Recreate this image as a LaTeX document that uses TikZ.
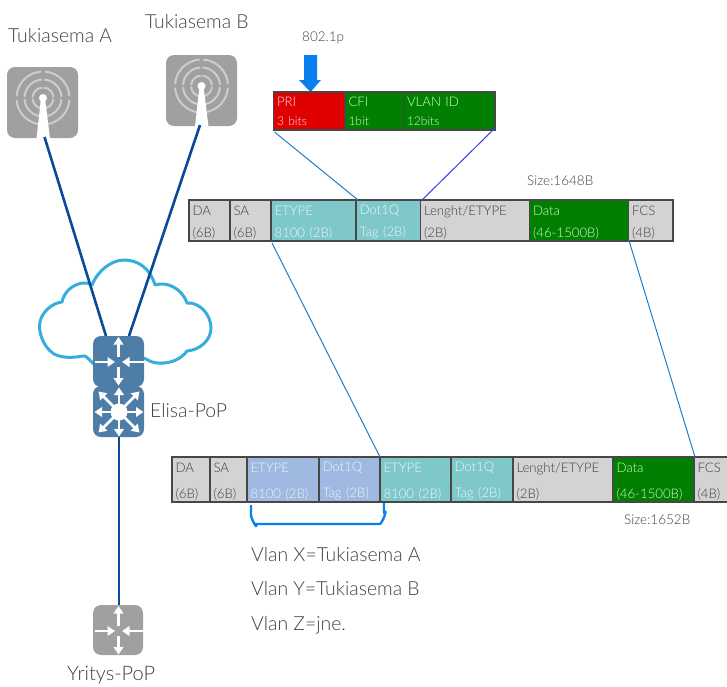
\documentclass[tikz,border=0pt]{standalone}
\usepackage{fontspec}
\setmainfont{Lato Light}
\usetikzlibrary{arrows.meta,calc}
\definecolor{txt}{HTML}{404040}
\definecolor{cellgray}{HTML}{D2D3D2}
\definecolor{cellteal}{HTML}{7FC8CA}
\definecolor{cellblue}{HTML}{9FB9E0}
\definecolor{cellgreen}{HTML}{007F00}
\definecolor{cellred}{HTML}{E00000}
\definecolor{wire}{HTML}{0A4A9A}
\definecolor{cloudc}{HTML}{35AEDB}
\definecolor{routerc}{HTML}{4E7DA8}
\definecolor{devgray}{HTML}{A0A0A0}
\definecolor{ringc}{HTML}{CDCDCD}
\definecolor{bright}{HTML}{0A80F0}
\definecolor{linkc}{HTML}{1E7FC8}
\definecolor{linkv}{HTML}{3A3AF0}
\tikzset{
  lbl/.style={font=\fontsize{19.4}{23}\selectfont,text=txt,inner sep=0pt,anchor=base west},
  small/.style={font=\fontsize{13.5}{16}\selectfont,text=txt,inner sep=0pt,anchor=base west},
  device/.style={rounded corners=8pt,minimum width=#1,minimum height=#1,inner sep=0pt,outer sep=0pt,anchor=north west},
  wireline/.style={wire,line width=2.6pt},
  thin link/.style={line width=1pt},
  warrow/.style={white,line width=2.8pt,-{Triangle[length=7.5pt,width=9.5pt]}},
  cellbox/.style={draw=black!72,line width=1.6pt,inner sep=0pt,outer sep=0pt,anchor=north west,align=left,
    font=\fontsize{13.2}{#1}\selectfont},
}
\newcommand{\dnst}{\rule{0pt}{13pt}}
\newcommand{\subsz}[1]{\fontsize{12}{14}\selectfont #1}
% name, x1, x2, y1, y2, line step, fill, text colour, text
\newcommand{\cellat}[9]{%
  \pgfmathsetlengthmacro{\cw}{#3-#2}\pgfmathsetlengthmacro{\ch}{#5-#4}%
  \pgfmathsetlengthmacro{\tw}{#3-#2-7}%
  \node[cellbox=#6,fill=#7,text=#8,minimum width=\cw,minimum height=\ch,text width=\tw,
        inner xsep=3.5pt] (#1) at (#2,#4) {#9};}
\newcommand{\antenna}[2]{%
  \begin{scope}[shift={(#1,#2)}]
    \foreach \r in {26.5,18.5,10.5}{
      \foreach \a in {0,90,180,270}{
        \draw[ringc,line width=2pt] (\a+4:\r) arc[start angle=\a+4,end angle=\a+86,radius=\r];
      }
    }
    \fill[white] (-2,0) -- (2,0) -- (7,40.5) -- (-6.5,40.5) -- cycle;
    \fill[white] (0,0) circle (4);
  \end{scope}}
\newcommand{\crossarrows}[2]{%
  \begin{scope}[shift={(#1,#2)}]
    \draw[warrow] (0,-5) -- (0,-25);
    \draw[warrow] (0,5) -- (0,23.5);
    \draw[warrow] (-24,0) -- (-3.5,0);
    \draw[warrow] (25,0) -- (3.5,0);
  \end{scope}}
\begin{document}
\begin{tikzpicture}[x=1pt,y=-1pt]
\useasboundingbox (0,0) rectangle (727,686);
% cloud
\draw[cloudc,line width=3pt,line join=round]
  (93.5,364) .. controls (88,358) and (85,355) .. (83,356)
  .. controls (72,358) and (62,358) .. (54,354)
  .. controls (42,346) and (38,330) .. (40,322)
  .. controls (42,312) and (52,303) .. (62,302)
  .. controls (64,292) and (72,285) .. (82,283)
  .. controls (87,283) and (90,283) .. (92,285)
  .. controls (98,270) and (112,260) .. (124,260)
  .. controls (138,260) and (150,268) .. (155,285)
  .. controls (166,281) and (182,288) .. (187,303)
  .. controls (200,302) and (211,315) .. (211,328)
  .. controls (211,340) and (200,350) .. (187,351)
  .. controls (182,358) and (172,364) .. (158,363)
  .. controls (152,363) and (148,360) .. (144,358);
% devices
\node[device=71pt,fill=devgray] (twa) at (7,67) {};
\node[device=71pt,fill=devgray] (twb) at (166,55) {};
\antenna{43}{98}
\antenna{201.5}{86}
\node[device=51pt,fill=routerc] (rt) at (93,336) {};
\node[device=51pt,fill=routerc] (st) at (93,386) {};
\node[device=50pt,fill=devgray] (yr) at (93,605) {};
% wires
\draw[wireline] ([xshift=2pt,yshift=1pt]twa.south) -- ([xshift=-12.5pt]rt.north);
\draw[wireline] ([xshift=-1.5pt,yshift=1pt]twb.south) -- ([xshift=10.5pt]rt.north);
\draw[wireline] ([xshift=0.5pt]st.south) -- ([xshift=1pt]yr.north);
\crossarrows{118.5}{362}
\crossarrows{118.5}{631}
% star
\begin{scope}[shift={(119,412)}]
  \foreach \a in {0,90,180,270}{\draw[warrow] (\a:6) -- (\a:24.5);}
  \foreach \a in {45,135,225,315}{\draw[warrow] (\a:6) -- (\a:29);}
  \fill[white] (0,0) circle (8.5);
\end{scope}
% labels
\node[lbl] (la) at (8,42) {Tukiasema A};
\node[lbl] (lb) at (145,28) {Tukiasema B};
\node[lbl] (le) at (150,417) {Elisa-PoP};
\node[lbl,font=\fontsize{20}{24}\selectfont] (ly) at (67,680) {Yritys-PoP};
\node[lbl] (v1) at (251,561) {Vlan X=Tukiasema A};
\node[lbl] (v2) at (251,595) {Vlan Y=Tukiasema B};
\node[lbl] (v3) at (251,630) {Vlan Z=jne.};
\node[small] (p1) at (302,41) {802.1p};
\node[small] (s1) at (527,185) {Size:1648B};
\node[small] (s2) at (624,524) {Size:1652B};
% arrow
\fill[bright] (304,55) -- (317,55) -- (317,80) -- (321,80) -- (310.5,92) -- (299,80) -- (304,80) -- cycle;
% 802.1Q tag
\cellat{pri}{273.5}{345}{92}{130}{20}{cellred}{white!90!red}{PRI\\[-1pt]\subsz{3 bits}}
\cellat{cfi}{345}{403.5}{92}{130}{20}{cellgreen}{white!80!green}{CFI\\[-1pt]\subsz{1bit}}
\cellat{vid}{403.5}{495}{92}{130}{20}{cellgreen}{white!80!green}{VLAN ID\\[-1pt]\subsz{12bits}}
% frame 1
\cellat{a1}{189}{230}{200}{241}{22}{cellgray}{txt}{\dnst DA\\(6B)}
\cellat{a2}{230}{271}{200}{241}{22}{cellgray}{txt}{\dnst SA\\(6B)}
\cellat{a3}{271}{356}{200}{241}{22}{cellteal}{white!85!cellteal}{\dnst ETYPE\\8100 (2B)}
\cellat{a4}{356}{420.5}{200}{241}{22}{cellteal}{white!85!cellteal}{\dnst Dot1Q\\Tag (2B)}
\cellat{a5}{420.5}{529.5}{200}{241}{22}{cellgray}{txt}{\dnst Lenght/ETYPE\\(2B)}
\cellat{a6}{529.5}{628.5}{200}{241}{22}{cellgreen}{white!80!green}{\dnst Data\\(46-1500B)}
\cellat{a7}{628.5}{673}{200}{241}{22}{cellgray}{txt}{\dnst FCS\\(4B)}
% frame 2
\cellat{b1}{172}{210}{457}{502}{26}{cellgray}{txt}{\dnst DA\\(6B)}
\cellat{b2}{210}{247}{457}{502}{26}{cellgray}{txt}{\dnst SA\\(6B)}
\cellat{b3}{247}{319}{457}{502}{26}{cellblue}{white!85!cellblue}{\dnst ETYPE\\8100 (2B)}
\cellat{b4}{319}{380}{457}{502}{26}{cellblue}{white!85!cellblue}{\dnst Dot1Q\\Tag (2B)}
\cellat{b5}{380}{451}{457}{502}{26}{cellteal}{white!85!cellteal}{\dnst ETYPE\\8100 (2B)}
\cellat{b6}{451}{513}{457}{502}{26}{cellteal}{white!85!cellteal}{\dnst Dot1Q\\Tag (2B)}
\cellat{b7}{513}{613}{457}{502}{26}{cellgray}{txt}{\dnst Lenght/ETYPE\\(2B)}
\cellat{b8}{613}{694}{457}{502}{26}{cellgreen}{white!80!green}{\dnst Data\\(46-1500B)}
\cellat{b9}{694}{730}{457}{502}{26}{cellgray}{txt}{\dnst FCS\\(4B)}
% links
\draw[thin link,color=linkc] ([shift={(1,2)}]pri.south west) -- ([xshift=2pt]a4.north west);
\draw[thin link,color=linkv] ([yshift=2pt]vid.south east) -- ([xshift=1.5pt]a4.north east);
\draw[thin link,color=linkc] ([shift={(1,2)}]a3.south west) -- (b5.north west);
\draw[thin link,color=linkc] ([yshift=2pt]a6.south east) -- ([xshift=1pt]b9.north west);
% bracket
\draw[bright,line width=2.4pt,line join=round] ([shift={(4,3)}]b3.south west) -- ++(0,10)
  .. controls +(0,4) and +(2,7) .. ++(5,9) -- ++(124,0)
  .. controls +(3,-2) and +(4,-6) .. ++(4,-11) -- ++(0,-10);
\end{tikzpicture}
\end{document}
